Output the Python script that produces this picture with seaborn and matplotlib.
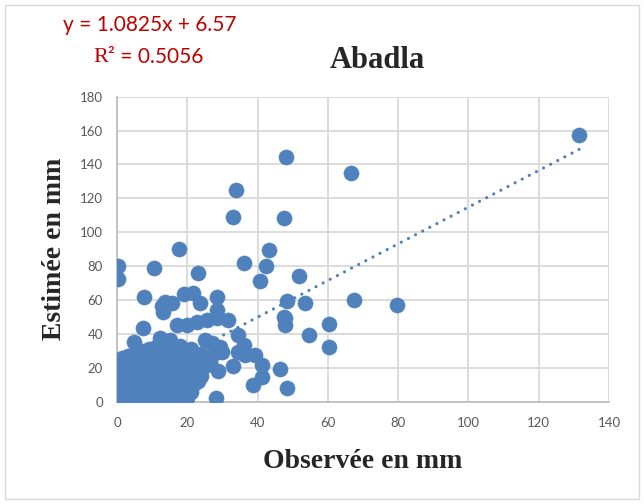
import numpy as np
import pandas as pd
import matplotlib
matplotlib.use("Agg")
import matplotlib.pyplot as plt
import seaborn as sns
from matplotlib.patches import Rectangle

# ---- data ----
outlier_obs = [131.6, 48.1, 66.6, 33.9, 32.9, 47.6, 17.6, 43.3, 36.0, 0.2, 42.5, 10.6,
               23.1, 0.2, 51.7, 40.8, 7.6, 19.2, 21.7, 28.4, 12.7, 13.7, 15.6, 13.2,
               23.6, 28.4, 28.4, 31.7, 25.5, 22.7, 19.8, 17.0, 48.5, 53.5, 67.5, 79.7,
               60.4, 54.6, 60.4, 47.6, 47.8, 47.8, 48.3, 46.4, 41.2, 41.2, 38.8, 39.3,
               36.4, 34.5, 34.5, 36.0, 33.1, 28.3, 28.6, 18.4, 12.7, 7.3, 4.7, 12.2,
               15.1, 25.0, 26.9, 29.3, 29.8, 27.9, 26.5, 24.1, 22.2]
outlier_est = [157.3, 144.2, 135.1, 125.1, 109.0, 108.2, 90.0, 89.3, 82.0, 80.0, 80.1, 79.0,
               76.1, 72.2, 74.3, 71.2, 61.5, 63.5, 64.0, 61.5, 56.5, 59.0, 58.4, 53.1,
               58.4, 54.1, 49.2, 48.2, 48.2, 47.2, 45.3, 45.0, 59.5, 58.4, 60.2, 57.0,
               45.8, 39.2, 32.1, 50.0, 49.2, 45.3, 8.3, 19.1, 14.8, 21.4, 9.9, 27.6,
               27.6, 29.5, 39.3, 33.5, 20.8, 2.4, 18.2, 1.0, 0.0, 43.5, 35.4, 37.4,
               36.4, 36.4, 34.4, 32.4, 29.5, 28.6, 23.6, 21.7, 10.9]

cluster_obs = ([0.0]*11 + [0.5]*8 + [1.0]*6 + [1.5]*3 + [2.0]*7 + [3.0]*8 + [4.0]*7 +
               [5.0]*8 + [6.0]*7 + [7.0]*8 + [8.0]*7 + [9.0]*7 + [10.0]*6 + [11.0]*7 +
               [12.0]*6 + [13.0]*7 + [14.0]*6 + [15.0]*6 + [16.0]*4 + [17.0]*5 + [18.0]*6 +
               [19.0]*5 + [20.0]*5 + [21.0]*5 + [22.0]*3 + [23.0]*3 + [24.0]*3 + [25.0]*2)
cluster_est = [0, 1, 2, 4, 6, 8, 10, 12, 14, 16, 18,
               0, 3, 5, 9, 13, 17, 21, 24,
               1, 7, 11, 15, 19, 23,
               0, 4, 26,
               2, 6, 10, 14, 18, 22, 25,
               0, 4, 8, 12, 16, 20, 24, 27,
               2, 6, 10, 14, 18, 22, 26,
               0, 4, 8, 12, 16, 20, 24, 28,
               2, 6, 10, 14, 18, 22, 27,
               0, 4, 8, 12, 16, 20, 25, 30,
               2, 6, 10, 14, 19, 23, 28,
               0, 4, 8, 12, 17, 27, 31,
               2, 6, 10, 15, 20, 29,
               0, 4, 8, 13, 18, 26, 32,
               2, 6, 10, 16, 21, 28,
               0, 4, 8, 12, 19, 30, 34,
               2, 6, 11, 16, 22, 27,
               0, 5, 12, 18, 25, 31,
               2, 14, 20, 28,
               4, 11, 16, 23, 30,
               1, 7, 13, 19, 26, 33,
               4, 10, 16, 22, 29,
               2, 8, 14, 20, 26,
               6, 12, 17, 24, 31,
               14, 20, 27,
               12, 17, 23,
               15, 19, 28,
               21, 25]

trend_slope = 1.0825
trend_intercept = 6.57
x_ticks = [0, 20, 40, 60, 80, 100, 120, 140]
y_ticks = [0, 20, 40, 60, 80, 100, 120, 140, 160, 180]

df = pd.DataFrame({"obs": outlier_obs + cluster_obs,
                   "est": outlier_est + [float(v) for v in cluster_est]})

# ---- style ----
sns.set_theme(style="white")
plt.rcParams["font.family"] = ["Lato", "DejaVu Sans"]

W, H = 644, 504
fig = plt.figure(figsize=(W / 100, H / 100), dpi=100)
fig.patch.set_facecolor("white")

left, right, top, bottom = 117, 609, 96.7, 401.7
ax = fig.add_axes([left / W, 1 - bottom / H, (right - left) / W, (bottom - top) / H])

blue = "#4F81BD"
sns.scatterplot(data=df, x="obs", y="est", ax=ax, s=120, color=blue,
                edgecolor=blue, linewidth=0.3, zorder=3, legend=False)

xs = np.array([0.0, max(df["obs"])])
ax.plot(xs, trend_slope * xs + trend_intercept, color=blue, lw=2.3,
        linestyle=(0, (0.01, 2.5)), dash_capstyle="round", zorder=4)

ax.set_xlim(0, 140)
ax.set_ylim(0, 180)
ax.set_xticks(x_ticks)
ax.set_yticks(y_ticks)
ax.grid(True, color="#D9D9D9", lw=1.3)
ax.set_axisbelow(True)
for s in ["top", "right"]:
    ax.spines[s].set_visible(False)
for s in ["left", "bottom"]:
    ax.spines[s].set_color("#BFBFBF")
    ax.spines[s].set_linewidth(1.3)
ax.tick_params(axis="both", length=0, labelsize=9.5, labelcolor="#595959")
ax.tick_params(axis="y", pad=10)
ax.tick_params(axis="x", pad=11)
ax.set_xlabel("")
ax.set_ylabel("")

serif = ["Liberation Serif", "DejaVu Serif"]
fig.text(363 / W, 1 - 461 / H, "Observée en mm", ha="center", va="center",
         fontsize=20, fontweight="bold", family=serif)
fig.text(55 / W, 1 - 249 / H, "Estimée en mm", ha="center", va="center",
         rotation=90, fontsize=20, fontweight="bold", family=serif)
fig.text(377 / W, 1 - 61 / H, "Abadla", ha="center", va="center",
         fontsize=22, fontweight="bold", family=serif)

red = "#C00000"
fig.text(63 / W, 1 - 25 / H, "y = 1.0825x + 6.57", ha="left", va="center",
         fontsize=15, color=red)
fig.text(93 / W, 1 - 57 / H, "R", ha="left", va="center",
         fontsize=16, color=red, family=serif)
fig.text(108.5 / W, 1 - 57 / H, "² = 0.5056", ha="left", va="center",
         fontsize=15, color=red)

fig.patches.append(Rectangle((5 / W, 5 / H), (W - 10) / W, (H - 10) / H,
                             transform=fig.transFigure, fill=False,
                             edgecolor="#D9D9D9", lw=1.0))

fig.savefig("out.png", dpi=100)
